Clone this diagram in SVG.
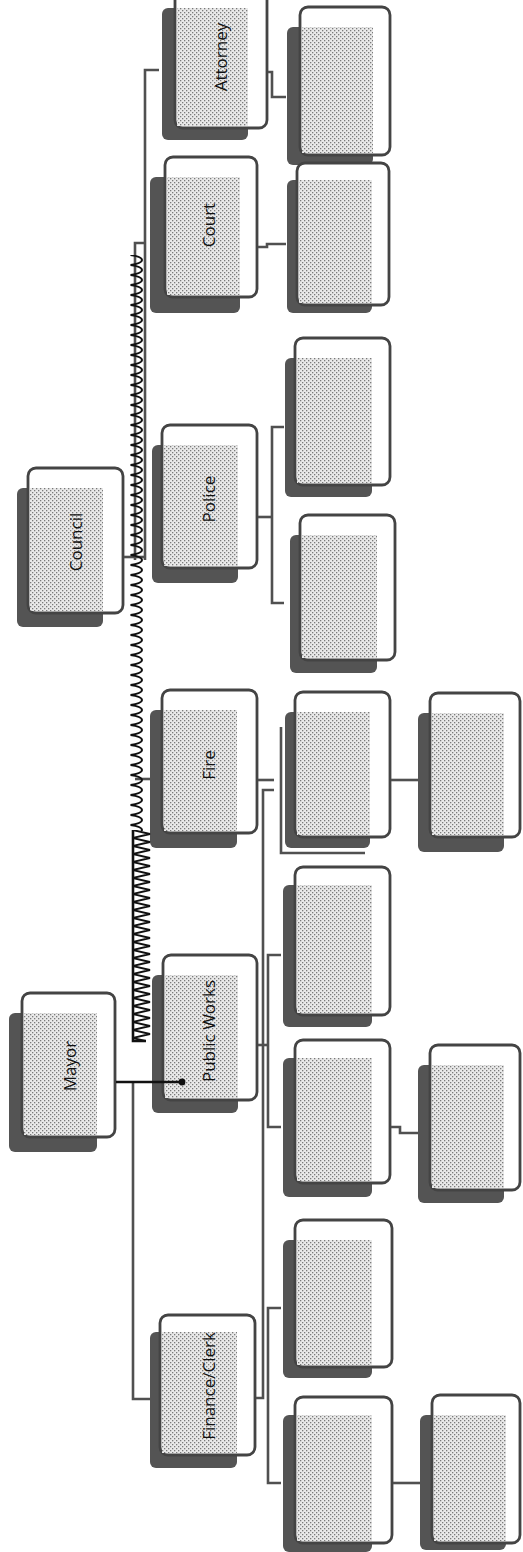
<svg xmlns="http://www.w3.org/2000/svg" width="523" height="1552" viewBox="0 0 523 1552">
<defs>
<style>
.sh{fill:#545454}
.cd{fill:#fff;stroke:#444;stroke-width:2.8}
.st{fill:url(#dots)}
.ln{fill:none;stroke:#505050;stroke-width:2.6}
.bk{fill:none;stroke:#111;stroke-width:2.6}
.lb{font-family:"Open Sans","Liberation Sans",sans-serif;font-size:17px;fill:#111;text-anchor:middle;dominant-baseline:central}
</style>
<pattern id="dots" patternUnits="userSpaceOnUse" width="4" height="4">
<rect width="4" height="4" fill="#e9e9e9"/>
<rect x="0" y="0" width="1.3" height="1.3" fill="#7a7a7a"/>
<rect x="2" y="2" width="1.3" height="1.3" fill="#7a7a7a"/>
</pattern>
<pattern id="zz" patternUnits="userSpaceOnUse" x="129" y="255" width="15" height="10">
<path d="M1.5,0 C8,1 13,3 13,5 C13,7 8,9 1.5,10" fill="none" stroke="#111" stroke-width="2"/>
</pattern>
<pattern id="zz2" patternUnits="userSpaceOnUse" x="124" y="830" width="28" height="8">
<path d="M9,0 L26,4 L9,8" fill="none" stroke="#111" stroke-width="1.8"/>
</pattern>
</defs>

<g id="mayor"><rect class="sh" x="9" y="1013" width="88" height="139" rx="6"/><rect class="cd" x="22" y="993" width="93" height="144" rx="8"/><rect class="st" x="24" y="1013" width="73" height="122"/><text class="lb" x="69" y="1066" transform="rotate(-90 69 1066)">Mayor</text></g>
<g id="council"><rect class="sh" x="17" y="488" width="86" height="139" rx="6"/><rect class="cd" x="28" y="468" width="95" height="145" rx="8"/><rect class="st" x="30" y="488" width="73" height="123"/><text class="lb" x="75" y="542" transform="rotate(-90 75 542)">Council</text></g>
<g id="attorney"><rect class="sh" x="162" y="8" width="86" height="132" rx="6"/><rect class="cd" x="175" y="-12" width="92" height="140" rx="8"/><rect class="st" x="177" y="8" width="71" height="118"/><text class="lb" x="220" y="57" transform="rotate(-90 220 57)">Attorney</text></g>
<g id="court"><rect class="sh" x="150" y="177" width="90" height="136" rx="6"/><rect class="cd" x="165" y="157" width="92" height="140" rx="8"/><rect class="st" x="167" y="177" width="73" height="118"/><text class="lb" x="208" y="225" transform="rotate(-90 208 225)">Court</text></g>
<g id="police"><rect class="sh" x="152" y="445" width="86" height="138" rx="6"/><rect class="cd" x="162" y="425" width="95" height="143" rx="8"/><rect class="st" x="164" y="445" width="74" height="121"/><text class="lb" x="208" y="499" transform="rotate(-90 208 499)">Police</text></g>
<g id="fire"><rect class="sh" x="150" y="710" width="87" height="138" rx="6"/><rect class="cd" x="162" y="690" width="95" height="143" rx="8"/><rect class="st" x="164" y="710" width="73" height="121"/><text class="lb" x="208" y="765" transform="rotate(-90 208 765)">Fire</text></g>
<g id="publicworks"><rect class="sh" x="152" y="975" width="86" height="138" rx="6"/><rect class="cd" x="163" y="955" width="94" height="145" rx="8"/><rect class="st" x="165" y="975" width="73" height="123"/><text class="lb" x="208" y="1031" transform="rotate(-90 208 1031)">Public Works</text></g>
<g id="finance"><rect class="sh" x="150" y="1332" width="87" height="136" rx="6"/><rect class="cd" x="160" y="1315" width="95" height="140" rx="8"/><rect class="st" x="162" y="1332" width="75" height="121"/><text class="lb" x="208" y="1386" transform="rotate(-90 208 1386)">Finance/Clerk</text></g>

<g id="attorney-sub"><rect class="sh" x="287" y="27" width="86" height="138" rx="6"/><rect class="cd" x="300" y="7" width="90" height="148" rx="8"/><rect class="st" x="302" y="27" width="71" height="126"/></g>
<g id="court-sub"><rect class="sh" x="287" y="180" width="85" height="133" rx="6"/><rect class="cd" x="297" y="163" width="92" height="142" rx="8"/><rect class="st" x="299" y="180" width="73" height="123"/></g>
<g id="police-sub1"><rect class="sh" x="285" y="358" width="87" height="139" rx="6"/><rect class="cd" x="295" y="338" width="95" height="147" rx="8"/><rect class="st" x="297" y="358" width="75" height="125"/></g>
<g id="police-sub2"><rect class="sh" x="290" y="535" width="87" height="138" rx="6"/><rect class="cd" x="300" y="515" width="95" height="145" rx="8"/><rect class="st" x="302" y="535" width="75" height="123"/></g>
<g id="fire-sub1"><rect class="sh" x="285" y="712" width="85" height="136" rx="6"/><rect class="cd" x="295" y="692" width="95" height="145" rx="8"/><rect class="st" x="297" y="712" width="73" height="123"/></g>
<g id="fire-sub2"><rect class="sh" x="418" y="713" width="86" height="139" rx="6"/><rect class="cd" x="430" y="693" width="90" height="144" rx="8"/><rect class="st" x="432" y="713" width="72" height="122"/></g>
<g id="pw-sub1"><rect class="sh" x="283" y="885" width="89" height="142" rx="6"/><rect class="cd" x="295" y="867" width="95" height="148" rx="8"/><rect class="st" x="297" y="885" width="75" height="128"/></g>
<g id="pw-sub2"><rect class="sh" x="283" y="1058" width="89" height="139" rx="6"/><rect class="cd" x="295" y="1040" width="95" height="143" rx="8"/><rect class="st" x="297" y="1058" width="75" height="123"/></g>
<g id="pw-sub3"><rect class="sh" x="418" y="1065" width="86" height="138" rx="6"/><rect class="cd" x="430" y="1045" width="90" height="145" rx="8"/><rect class="st" x="432" y="1065" width="72" height="123"/></g>
<g id="fin-sub1"><rect class="sh" x="283" y="1240" width="89" height="138" rx="6"/><rect class="cd" x="295" y="1220" width="97" height="147" rx="8"/><rect class="st" x="297" y="1240" width="75" height="125"/></g>
<g id="fin-sub2"><rect class="sh" x="283" y="1415" width="89" height="137" rx="6"/><rect class="cd" x="295" y="1397" width="97" height="146" rx="8"/><rect class="st" x="297" y="1415" width="75" height="126"/></g>
<g id="fin-sub3"><rect class="sh" x="420" y="1415" width="86" height="135" rx="6"/><rect class="cd" x="432" y="1395" width="88" height="148" rx="8"/><rect class="st" x="434" y="1415" width="72" height="126"/></g>

<g id="connectors">
<path class="ln" d="M159,70 H145 V560"/>
<path class="ln" d="M145,243 H135 V560"/>
<path class="ln" d="M124,557 H145"/>
<path class="ln" d="M135,779 H150"/>
<rect x="129" y="255" width="15" height="576" fill="url(#zz)"/>
<rect x="124" y="830" width="28" height="210" fill="url(#zz2)"/>
<path class="bk" d="M133,830 V1041 H146"/>
<path class="ln" d="M133,1082 V1399 H150"/>
<path class="bk" d="M116,1082 H182"/>
<circle cx="182" cy="1082" r="3.4" fill="#111"/>
<path class="ln" d="M268,72 H272 V97 H286"/>
<path class="ln" d="M258,247 H267 V244 H286"/>
<path class="ln" d="M258,517 H272"/>
<path class="ln" d="M284,427 H272 V603 H284"/>
<path class="ln" d="M258,780 H274"/>
<path class="ln" d="M391,780 H418"/>
<path class="ln" d="M274,790 H263 V1398 H256"/>
<path class="ln" d="M258,1045 H268"/>
<path class="ln" d="M281,955 H268 V1127 H281"/>
<path class="ln" d="M391,1127 H400 V1133 H418"/>
<path class="ln" d="M281,1308 H268 V1483 H281"/>
<path class="ln" d="M393,1483 H420"/>
<path class="ln" d="M281,727 V853 H365" stroke-width="2"/>
</g>
</svg>
